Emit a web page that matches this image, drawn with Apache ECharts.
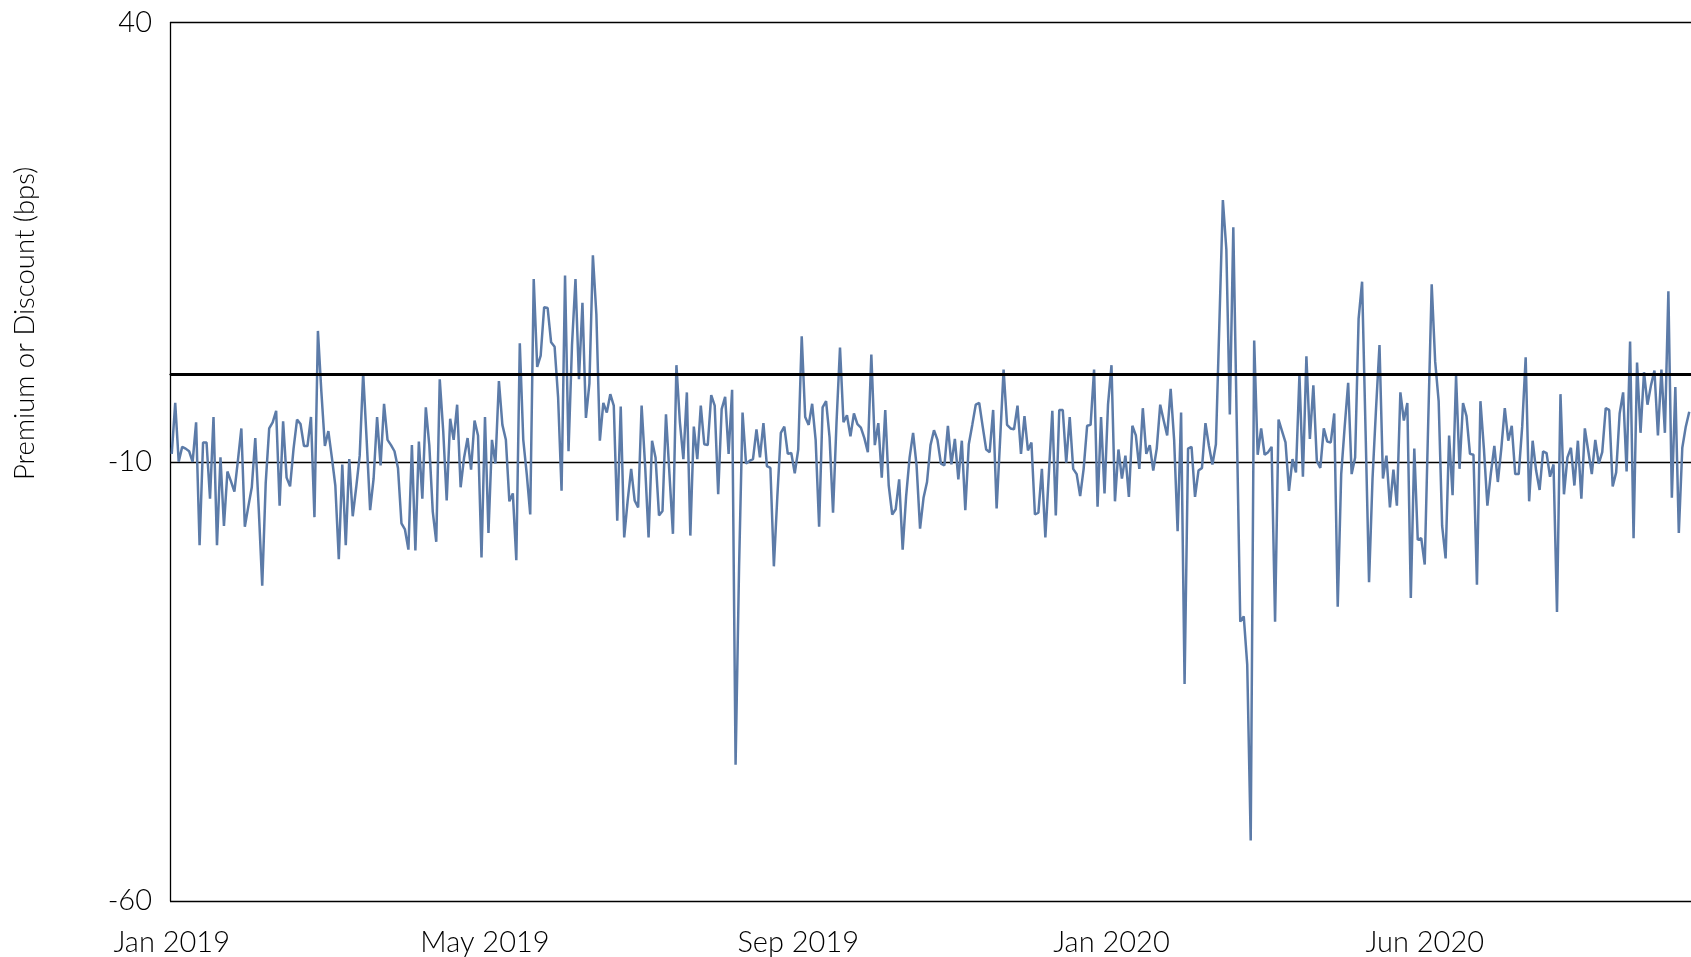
<!DOCTYPE html>
<html>
<head>
<meta charset="utf-8">
<script src="https://cdn.jsdelivr.net/npm/echarts@6/dist/echarts.min.js"></script>
<style>
html,body{margin:0;padding:0;background:#fff;}
#chart{width:1691px;height:957px;}
</style>
</head>
<body>
<div id="chart"></div>
<script>
// Premium / discount (bps), daily in segments
const premiumJanFeb2019 = [-9.1, -3.3, -10.0, -8.3, -8.5, -8.8, -10.0, -5.5, -19.5, -7.8, -7.8, -14.2, -4.9, -19.5, -9.5, -17.3, -11.1, -12.2, -13.4, -9.9, -6.2, -17.4, -15.1, -12.9, -7.3, -15.4, -24.1, -12.4, -6.2, -5.5, -4.2, -15.0, -5.4, -11.8, -12.8, -8.5, -5.2, -5.7, -8.2];
const premiumMarApr2019 = [-8.2, -4.9, -16.3, 4.9, -2.1, -8.2, -6.5, -9.5, -12.7, -21.1, -10.3, -19.5, -9.7, -16.2, -12.9, -9.3, 0.1, -7.5, -15.5, -11.9, -4.9, -10.4, -3.4, -7.5, -8.1, -8.8, -10.7, -17.0, -17.7, -20.0, -8.1, -20.1, -7.7, -14.2, -3.8, -8.1, -15.7, -19.1, -0.6];
const premiumMayJun2019 = [-6.5, -14.4, -5.1, -7.5, -3.5, -12.9, -9.5, -7.3, -10.9, -5.3, -7.0, -20.9, -4.9, -18.1, -7.5, -10.2, -0.8, -5.8, -7.5, -14.5, -13.6, -21.2, 3.5, -7.5, -11.4, -16.0, 10.8, 0.8, 2.1, 7.6, 7.5, 3.6, 3.1, -2.6, -13.3, 11.2, -8.8, 3.3, 10.8];
const premiumJulAug2019 = [-0.6, 8.1, -5.0, -1.1, 13.5, 6.8, -7.6, -3.3, -4.4, -2.3, -3.6, -16.7, -3.7, -18.6, -14.4, -10.8, -14.4, -15.2, -3.6, -10.4, -18.6, -7.6, -9.5, -16.1, -15.6, -4.6, -11.4, -18.2, 1.0, -5.5, -9.7, -2.1, -18.4, -6.0, -9.7, -3.6, -8.0, -8.1];
const premiumAugOct2019 = [-2.4, -3.6, -13.7, -4.0, -2.6, -9.1, -1.8, -44.5, -22.0, -4.4, -10.2, -9.9, -9.7, -6.3, -9.5, -5.6, -10.5, -10.7, -21.9, -13.9, -6.7, -6.0, -9.1, -9.0, -11.3, -8.6, 4.3, -4.9, -5.8, -3.4, -7.5, -17.4, -3.8, -3.1, -7.2, -15.8, -5.5, 3.0, -5.5];
const premiumOctNov2019 = [-4.7, -7.1, -4.5, -5.7, -6.1, -7.3, -8.9, 2.2, -8.1, -5.6, -11.8, -4.1, -12.7, -16.0, -15.4, -12.0, -20.0, -13.9, -9.5, -6.7, -10.4, -17.6, -14.1, -12.3, -8.1, -6.4, -7.5, -10.2, -10.4, -5.9, -10.3, -7.4, -12.0, -7.6, -15.5, -8.0, -5.8, -3.5, -3.3];
const premiumDec2019 = [-6.0, -8.6, -8.9, -4.1, -15.3, -7.5, 0.5, -5.8, -6.2, -6.3, -3.6, -9.1, -4.8, -8.7, -7.8, -16.0, -15.8, -10.8, -18.6, -11.4, -4.2, -16.1, -4.1, -4.1, -10.1, -4.9, -10.8, -11.4, -13.9, -10.8, -5.9, -5.8, 0.5, -15.1, -4.9, -13.6, -3.5, 1.0];
const premiumJanMar2020 = [-14.5, -8.6, -11.9, -9.3, -14.0, -5.9, -7.0, -10.8, -3.9, -9.1, -8.1, -11.0, -8.5, -3.5, -5.3, -7.0, -1.7, -7.5, -17.9, -4.4, -35.3, -8.5, -8.3, -14.0, -11.0, -10.7, -5.6, -8.2, -10.3, -8.0, 5.8, 19.8, 14.2, -4.6, 16.7, -5.8, -28.2, -27.6, -33.1];
const premiumMarMay2020 = [-53.1, 3.8, -9.2, -6.2, -9.2, -8.9, -8.3, -28.2, -5.2, -6.5, -7.8, -13.3, -9.7, -11.2, -0.1, -11.7, 2.0, -7.4, -1.3, -9.9, -10.7, -6.2, -7.7, -7.8, -4.5, -26.5, -11.4, -6.0, -1.0, -11.4, -9.5, 6.3, 10.5, -6.5, -23.7, -11.9, -4.0, 3.3, -11.9];
const premiumMayJul2020 = [-9.3, -15.2, -10.9, -15.0, -2.1, -5.3, -3.3, -25.5, -8.5, -18.9, -18.7, -21.7, -5.5, 10.2, 1.4, -3.1, -17.3, -21.0, -7.0, -13.8, -0.2, -10.8, -3.3, -4.8, -9.1, -9.2, -24.0, -3.1, -8.5, -15.0, -11.3, -8.2, -12.3, -8.5, -3.9, -7.6, -5.9, -11.4, -11.4];
const premiumJulOct2020 = [-6.0, 1.9, -14.5, -7.6, -11.0, -13.2, -8.8, -9.0, -11.7, -10.3, -27.1, -2.3, -13.7, -9.5, -8.4, -12.7, -7.6, -14.2, -6.2, -8.8, -11.4, -7.5, -10.2, -8.9, -3.9, -4.1, -12.8, -11.2, -4.5, -2.1, -11.1, 3.7, -18.7, 1.3, -6.7, 0.2, -3.5, -1.3, 0.4, -7.0, 0.5, -6.7, 9.4, -14.1, -1.5, -18.1, -8.4, -6.0, -4.3];

// x tick labels: one every labelEvery trading days
const xTickLabels = ['Jan 2019', 'May 2019', 'Sep 2019', 'Jan 2020', 'Jun 2020'];
const labelEvery = 90;
const yTickValues = [-60, -10, 40];
const referenceLevel = [0];

const values = [].concat(premiumJanFeb2019, premiumMarApr2019, premiumMayJun2019, premiumJulAug2019,
  premiumAugOct2019, premiumOctNov2019, premiumDec2019, premiumJanMar2020, premiumMarMay2020,
  premiumMayJul2020, premiumJulOct2020);
const categories = values.map((v, i) => String(i));

const FONT = 'Lato';
const chart = echarts.init(document.getElementById('chart'), null, {renderer: 'canvas'});
chart.setOption({
  animation: false,
  backgroundColor: '#ffffff',
  grid: {left: 170, right: -4, top: 22.6, bottom: 55, containLabel: false},
  xAxis: {
    type: 'category',
    data: categories,
    boundaryGap: true,
    axisLine: {show: true, lineStyle: {color: '#000', width: 1.3}},
    axisTick: {show: false},
    splitLine: {show: false},
    axisLabel: {
      interval: labelEvery - 1,
      formatter: (v, i) => (i % labelEvery === 0 && xTickLabels[i / labelEvery]) ? xTickLabels[i / labelEvery] : '',
      fontFamily: FONT, fontWeight: 300, fontSize: 29, color: '#000', margin: 27
    }
  },
  yAxis: {
    type: 'value',
    min: yTickValues[0], max: yTickValues[yTickValues.length - 1], interval: 50,
    axisLine: {show: true, lineStyle: {color: '#000', width: 1.3}},
    axisTick: {show: false},
    splitLine: {show: true, lineStyle: {color: '#000', width: 1.3}},
    axisLabel: {fontFamily: FONT, fontWeight: 300, fontSize: 29, color: '#000', margin: 18},
    name: 'Premium or Discount (bps)',
    nameLocation: 'middle',
    nameRotate: 90,
    nameGap: 131,
    nameTextStyle: {fontFamily: FONT, fontWeight: 300, fontSize: 27.5, color: '#000', padding: [0, 0, 0, 277]}
  },
  series: [{
    type: 'line',
    data: values,
    symbol: 'none',
    lineStyle: {color: '#5C7BA8', width: 2.5},
    markLine: {
      silent: true,
      symbol: 'none',
      label: {show: false},
      lineStyle: {color: '#000', width: 2.8, type: 'solid'},
      data: referenceLevel.map(v => ({yAxis: v}))
    }
  }]
});
</script>
</body>
</html>
